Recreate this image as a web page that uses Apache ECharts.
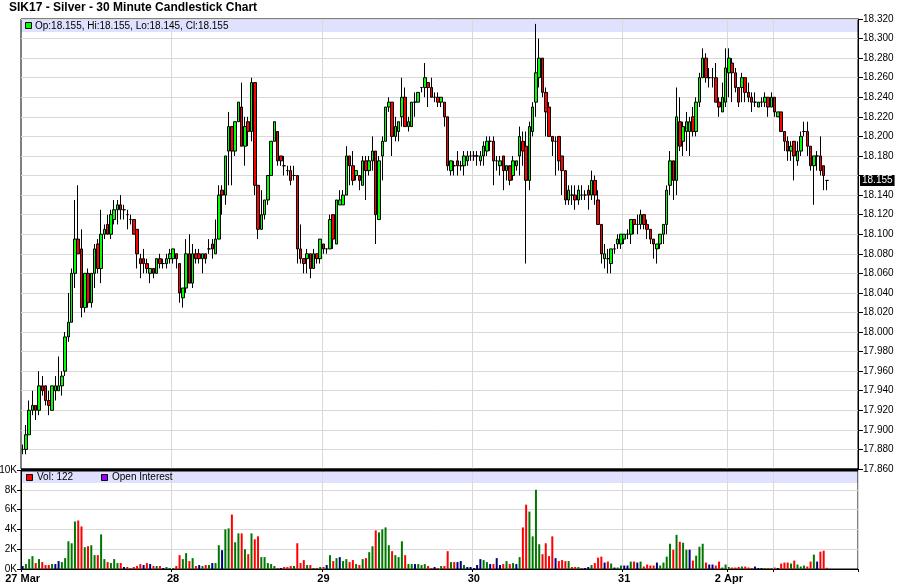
<!DOCTYPE html>
<html><head><meta charset="utf-8">
<script src="https://cdn.jsdelivr.net/npm/echarts@6/dist/echarts.min.js"></script>
<style>html,body{margin:0;padding:0;background:#fff}#c{width:900px;height:587px}</style>
</head><body><div id="c"></div>
<script>
// ---- DATA ----
const titleText = 'SIK17 - Silver - 30 Minute Candlestick Chart';
const dayNames = ['27 Mar','28','29','30','31','2 Apr','3 Apr'];
const dayBars  = [46,46,46,46,32,14,17];
const dayLabelShown = [true,true,true,true,true,true,false];
const emptySlots = 9;

const openP = [17.880,17.880,17.895,17.920,17.925,17.920,17.945,17.945,17.930,17.920,
 17.940,17.940,17.945,17.960,17.995,18.010,18.060,18.095,18.085,18.025,
 18.060,18.030,18.060,18.090,18.065,18.100,18.110,18.100,18.115,18.125,
 18.130,18.125,18.120,18.115,18.115,18.105,18.075,18.075,18.070,18.060,
 18.065,18.060,18.075,18.070,18.070,18.075,18.075,18.080,18.070,18.035,
 18.045,18.080,18.050,18.080,18.080,18.075,18.080,18.085,18.090,18.080,
 18.095,18.145,18.140,18.185,18.210,18.185,18.215,18.230,18.190,18.215,
 18.205,18.255,18.150,18.105,18.120,18.135,18.160,18.195,18.205,18.180,
 18.170,18.165,18.165,18.160,18.160,18.085,18.075,18.075,18.080,18.065,
 18.080,18.075,18.090,18.085,18.085,18.120,18.090,18.130,18.130,18.140,
 18.180,18.170,18.160,18.160,18.150,18.175,18.165,18.175,18.185,18.115,
 18.180,18.195,18.230,18.235,18.200,18.205,18.220,18.240,18.210,18.210,
 18.235,18.235,18.250,18.250,18.255,18.250,18.240,18.240,18.235,18.235,
 18.220,18.165,18.170,18.175,18.170,18.170,18.175,18.180,18.180,18.180,
 18.175,18.180,18.185,18.195,18.195,18.175,18.170,18.180,18.165,18.170,
 18.160,18.170,18.180,18.195,18.190,18.155,18.205,18.235,18.260,18.280,
 18.245,18.230,18.200,18.195,18.200,18.180,18.165,18.135,18.140,18.140,
 18.135,18.140,18.140,18.145,18.140,18.155,18.135,18.110,18.075,18.075,
 18.070,18.085,18.090,18.090,18.095,18.100,18.100,18.115,18.110,18.110,
 18.120,18.110,18.105,18.095,18.085,18.090,18.100,18.110,18.150,18.175,
 18.155,18.215,18.195,18.205,18.205,18.220,18.205,18.235,18.260,18.280,
 18.260,18.260,18.260,18.235,18.225,18.235,18.265,18.275,18.265,18.250,
 18.250,18.260,18.245,18.240,18.235,18.230,18.235,18.235,18.240,18.230,
 18.240,18.220,18.225,18.205,18.195,18.185,18.195,18.175,18.185,18.205,
 18.205,18.190,18.170,18.180,18.180,18.170,18.155];

const highP = [17.885,17.905,17.930,17.940,17.925,17.960,17.955,17.945,17.940,17.945,
 17.955,17.975,17.960,18.000,18.040,18.065,18.135,18.150,18.105,18.060,
 18.065,18.060,18.090,18.095,18.125,18.110,18.120,18.125,18.135,18.135,
 18.140,18.130,18.125,18.120,18.115,18.105,18.080,18.085,18.075,18.065,
 18.065,18.075,18.080,18.075,18.080,18.085,18.085,18.080,18.070,18.045,
 18.095,18.100,18.090,18.085,18.085,18.080,18.080,18.095,18.095,18.115,
 18.150,18.150,18.180,18.225,18.210,18.215,18.235,18.255,18.220,18.220,
 18.260,18.255,18.150,18.145,18.135,18.160,18.195,18.215,18.205,18.180,
 18.180,18.170,18.170,18.170,18.160,18.110,18.075,18.085,18.080,18.085,
 18.080,18.095,18.090,18.085,18.120,18.120,18.135,18.145,18.145,18.190,
 18.180,18.185,18.165,18.160,18.180,18.180,18.180,18.200,18.185,18.180,
 18.200,18.230,18.240,18.235,18.220,18.215,18.260,18.250,18.220,18.235,
 18.245,18.245,18.250,18.275,18.255,18.260,18.245,18.245,18.240,18.235,
 18.220,18.175,18.175,18.185,18.175,18.185,18.185,18.185,18.185,18.185,
 18.185,18.195,18.200,18.200,18.200,18.180,18.180,18.180,18.170,18.170,
 18.180,18.175,18.210,18.205,18.205,18.215,18.235,18.315,18.300,18.280,
 18.250,18.235,18.200,18.200,18.200,18.180,18.165,18.150,18.150,18.150,
 18.150,18.150,18.145,18.150,18.165,18.160,18.145,18.110,18.090,18.085,
 18.085,18.090,18.100,18.100,18.100,18.105,18.115,18.115,18.120,18.125,
 18.120,18.115,18.105,18.095,18.090,18.100,18.110,18.150,18.185,18.175,
 18.250,18.240,18.215,18.225,18.220,18.230,18.240,18.265,18.290,18.285,
 18.270,18.270,18.275,18.240,18.255,18.290,18.290,18.280,18.270,18.250,
 18.265,18.260,18.255,18.245,18.245,18.235,18.240,18.245,18.240,18.245,
 18.240,18.225,18.225,18.205,18.200,18.195,18.195,18.195,18.205,18.215,
 18.215,18.190,18.180,18.185,18.200,18.170,18.155];

const lowP = [17.875,17.875,17.895,17.915,17.910,17.915,17.935,17.925,17.915,17.920,
 17.930,17.940,17.935,17.955,17.990,18.010,18.045,18.080,18.015,18.020,
 18.025,18.025,18.045,18.060,18.050,18.095,18.100,18.095,18.110,18.110,
 18.115,18.115,18.105,18.110,18.100,18.065,18.055,18.060,18.060,18.050,
 18.055,18.060,18.065,18.065,18.065,18.070,18.070,18.065,18.030,18.025,
 18.040,18.050,18.045,18.070,18.070,18.060,18.070,18.080,18.075,18.080,
 18.095,18.120,18.130,18.150,18.150,18.180,18.215,18.190,18.170,18.190,
 18.195,18.140,18.095,18.105,18.115,18.130,18.160,18.195,18.170,18.170,
 18.160,18.160,18.150,18.155,18.070,18.070,18.060,18.060,18.055,18.065,
 18.070,18.070,18.080,18.080,18.085,18.085,18.090,18.130,18.130,18.140,
 18.150,18.150,18.155,18.145,18.150,18.135,18.160,18.165,18.090,18.115,
 18.155,18.195,18.225,18.180,18.195,18.195,18.210,18.210,18.205,18.210,
 18.220,18.235,18.245,18.240,18.230,18.240,18.235,18.230,18.230,18.210,
 18.165,18.160,18.160,18.160,18.165,18.160,18.170,18.175,18.175,18.170,
 18.170,18.170,18.180,18.185,18.150,18.165,18.160,18.145,18.155,18.150,
 18.155,18.165,18.160,18.170,18.070,18.145,18.200,18.220,18.250,18.240,
 18.200,18.200,18.180,18.160,18.165,18.140,18.130,18.130,18.130,18.125,
 18.130,18.135,18.135,18.125,18.135,18.130,18.110,18.070,18.065,18.060,
 18.060,18.080,18.085,18.085,18.090,18.095,18.090,18.100,18.100,18.105,
 18.105,18.095,18.090,18.075,18.070,18.085,18.090,18.100,18.140,18.135,
 18.140,18.185,18.180,18.185,18.180,18.200,18.200,18.230,18.260,18.255,
 18.250,18.250,18.235,18.220,18.225,18.230,18.240,18.235,18.245,18.230,
 18.235,18.235,18.235,18.225,18.230,18.230,18.230,18.230,18.220,18.230,
 18.220,18.220,18.205,18.185,18.175,18.175,18.155,18.170,18.180,18.200,
 18.180,18.165,18.130,18.165,18.160,18.145,18.145];

const closeP = [17.880,17.895,17.920,17.925,17.920,17.945,17.940,17.930,17.925,17.945,
 17.945,17.945,17.955,17.995,18.010,18.060,18.095,18.080,18.025,18.060,
 18.030,18.060,18.085,18.065,18.100,18.105,18.100,18.120,18.125,18.130,
 18.125,18.125,18.120,18.115,18.100,18.080,18.070,18.070,18.065,18.065,
 18.060,18.075,18.070,18.070,18.075,18.080,18.085,18.075,18.040,18.045,
 18.080,18.050,18.080,18.075,18.075,18.080,18.075,18.085,18.085,18.095,
 18.140,18.140,18.180,18.210,18.185,18.215,18.235,18.190,18.210,18.205,
 18.255,18.150,18.105,18.120,18.135,18.160,18.195,18.215,18.175,18.175,
 18.170,18.165,18.155,18.160,18.085,18.075,18.070,18.080,18.065,18.080,
 18.075,18.095,18.085,18.085,18.115,18.095,18.135,18.135,18.140,18.180,
 18.170,18.155,18.165,18.155,18.175,18.165,18.175,18.185,18.120,18.175,
 18.195,18.230,18.235,18.200,18.210,18.215,18.240,18.210,18.215,18.235,
 18.235,18.245,18.250,18.260,18.250,18.240,18.240,18.235,18.240,18.220,
 18.170,18.175,18.170,18.170,18.170,18.180,18.180,18.180,18.180,18.180,
 18.180,18.190,18.195,18.195,18.175,18.175,18.175,18.165,18.170,18.155,
 18.175,18.175,18.200,18.185,18.155,18.210,18.230,18.265,18.280,18.245,
 18.225,18.200,18.195,18.195,18.175,18.165,18.135,18.145,18.140,18.135,
 18.145,18.140,18.140,18.140,18.155,18.140,18.110,18.080,18.080,18.075,
 18.085,18.085,18.095,18.100,18.100,18.100,18.115,18.110,18.110,18.120,
 18.110,18.105,18.095,18.090,18.090,18.100,18.110,18.145,18.175,18.155,
 18.220,18.190,18.210,18.215,18.215,18.205,18.235,18.260,18.280,18.260,
 18.260,18.260,18.235,18.230,18.240,18.270,18.280,18.265,18.250,18.235,
 18.260,18.245,18.240,18.235,18.235,18.235,18.235,18.240,18.230,18.240,
 18.225,18.225,18.205,18.195,18.185,18.190,18.180,18.185,18.200,18.205,
 18.190,18.170,18.180,18.180,18.165,18.160,18.155];

const volume = [300,500,1000,1300,600,1000,700,400,400,500,
 500,800,700,1100,2800,2600,4800,4900,4300,2200,
 2300,2400,1400,1400,3500,1000,700,600,1000,600,
 600,200,200,100,200,300,500,400,600,500,
 300,300,300,100,200,100,100,300,1400,1000,
 1600,800,1100,300,400,300,400,400,600,600,
 2400,1900,4000,4100,5500,2700,3600,3600,2000,1500,
 3600,3000,3300,1200,1200,600,500,300,100,100,
 200,200,300,300,2600,600,900,400,400,100,
 100,200,200,400,1400,800,1100,1200,800,1000,
 700,900,500,400,1000,1100,1700,2300,3900,3700,
 4000,4200,2400,1800,1400,1200,2800,1400,500,500,
 500,500,400,500,300,100,200,100,300,300,
 1800,700,700,700,800,400,200,200,100,400,
 1000,900,700,500,500,1100,400,500,800,500,
 600,500,1200,4200,6500,5800,3300,8000,2500,1500,
 2600,1300,3300,1100,800,900,800,800,200,200,
 200,100,100,200,400,600,1150,1250,650,750,
 550,150,150,350,350,350,750,750,650,750,
 250,450,350,350,650,350,650,1250,2550,1950,
 3450,2750,2650,1950,1950,850,1350,2250,2550,650,
 450,450,350,750,150,450,200,150,150,200,
 250,250,150,100,250,100,100,100,100,100,
 150,100,550,650,650,550,850,450,250,350,
 250,750,1450,750,1750,1850,122];

const priceAxis = {min:17.86, max:18.32, step:0.02};
const volAxis = {min:0, max:10000, step:2000};

// ---- BUILD ----
const FONT = '"Liberation Sans", Arial, sans-serif';
const categories = [], dayStart = {}, dayStartShown = {};
dayNames.forEach((d, di) => {
  dayStart[categories.length] = d;
  dayStartShown[categories.length] = dayLabelShown[di];
  for (let k = 0; k < dayBars[di]; k++) categories.push(d + ' #' + (k + 1));
});
for (let j = 0; j < emptySlots; j++) categories.push('next #' + (j + 1));

const candleData = openP.map((o, i) => [o, closeP[i], lowP[i], highP[i]]);
const volData = volume.map((v, i) => {
  const prev = i > 0 ? closeP[i - 1] : openP[i];
  const c = closeP[i] > prev ? '#007800' : (closeP[i] < prev ? '#ff0000' : '#000080');
  return {value: v, itemStyle: {color: c}};
});
const last = closeP.length - 1;
const isStart = (i) => dayStart[i] !== undefined;

const GRID_L = 21, GRID_R = 42, G0_TOP = 19, G0_H = 450, G1_TOP = 470, G1_H = 99;
const PLOT_W = 900 - GRID_L - GRID_R;

const graphics = [
  {type:'rect', z:-1, silent:true, shape:{x:GRID_L, y:G0_TOP, width:PLOT_W, height:13}, style:{fill:'#e0e0ff'}},
  {type:'rect', z:-1, silent:true, shape:{x:GRID_L, y:G1_TOP + 1, width:PLOT_W, height:12}, style:{fill:'#e0e0ff'}},
  {type:'rect', z:50, silent:true, shape:{x:GRID_L, y:G0_TOP + G0_H - 0.5, width:PLOT_W, height:3}, style:{fill:'#000'}},
  {type:'rect', z:50, silent:true, shape:{x:25.5, y:22.5, width:6, height:6}, style:{fill:'#00ff00', stroke:'#000', lineWidth:1}},
  {type:'text', z:50, silent:true, x:35, y:26,
   style:{text:'Op:' + openP[last].toFixed(3) + ', Hi:' + highP[last].toFixed(3) + ', Lo:' + lowP[last].toFixed(3) + ', Cl:' + closeP[last].toFixed(3),
          fill:'#000', fontSize:10, fontFamily:FONT, verticalAlign:'middle'}},
  {type:'rect', z:50, silent:true, shape:{x:26.5, y:474.5, width:6, height:6}, style:{fill:'#ff0000', stroke:'#000', lineWidth:1}},
  {type:'text', z:50, silent:true, x:37, y:477.5, style:{text:'Vol: ' + volume[last], fill:'#000', fontSize:10, fontFamily:FONT, verticalAlign:'middle'}},
  {type:'rect', z:50, silent:true, shape:{x:101.5, y:474.5, width:6, height:6}, style:{fill:'#9900ff', stroke:'#000', lineWidth:1}},
  {type:'text', z:50, silent:true, x:112, y:477.5, style:{text:'Open Interest', fill:'#000', fontSize:10, fontFamily:FONT, verticalAlign:'middle'}}
];

const chart = echarts.init(document.getElementById('c'), null, {renderer:'canvas', width:900, height:587});
const gridLine = {show:true, lineStyle:{color:'#d9d9d9', width:1}};
chart.setOption({
  animation:false,
  backgroundColor:'#ffffff',
  title:{text:titleText, left:9, top:2, padding:0,
         textStyle:{fontSize:12, fontWeight:'bold', fontFamily:FONT, color:'#000'}},
  grid:[
    {left:GRID_L, right:GRID_R, top:G0_TOP, height:G0_H, show:true, borderColor:'#000', borderWidth:1, outerBoundsMode:'none'},
    {left:GRID_L, right:GRID_R, top:G1_TOP, height:G1_H, show:true, borderColor:'#000', borderWidth:1, outerBoundsMode:'none'}
  ],
  xAxis:[
    {type:'category', gridIndex:0, data:categories, boundaryGap:true,
     axisLine:{show:false}, axisTick:{show:false}, axisLabel:{show:false},
     splitLine:Object.assign({}, gridLine, {interval:(i) => i > 0 && isStart(i)})},
    {type:'category', gridIndex:1, data:categories, boundaryGap:true,
     axisLine:{show:true, lineStyle:{color:'#000'}},
     axisTick:{show:true, length:3, interval:(i) => isStart(i), lineStyle:{color:'#000'}},
     axisLabel:{interval:(i) => isStart(i) && dayStartShown[i], formatter:(v, i) => dayStart[i] || '',
                fontSize:11, fontWeight:'bold', fontFamily:FONT, color:'#000', margin:4, hideOverlap:false},
     splitLine:Object.assign({}, gridLine, {interval:(i) => i > 0 && isStart(i)})}
  ],
  yAxis:[
    {type:'value', gridIndex:0, position:'right', min:priceAxis.min, max:priceAxis.max, interval:priceAxis.step,
     axisLine:{show:true, lineStyle:{color:'#000'}},
     axisTick:{show:true, length:5, lineStyle:{color:'#000'}},
     axisLabel:{formatter:(v) => Math.abs(v - closeP[last]) < 0.008 ? '' : v.toFixed(3),
                fontSize:10, fontFamily:FONT, color:'#000', margin:5, showMinLabel:true, showMaxLabel:true},
     splitLine:gridLine},
    {type:'value', gridIndex:1, position:'left', min:volAxis.min, max:volAxis.max, interval:volAxis.step,
     axisLine:{show:true, lineStyle:{color:'#000'}},
     axisTick:{show:true, length:4, lineStyle:{color:'#000'}},
     axisLabel:{formatter:(v) => (v / 1000) + 'K', fontSize:10, fontFamily:FONT, color:'#000', margin:4, showMinLabel:true, showMaxLabel:true},
     splitLine:gridLine}
  ],
  series:[
    {type:'candlestick', xAxisIndex:0, yAxisIndex:0, data:candleData, barWidth:3,
     itemStyle:{color:'#00ff00', color0:'#ff0000', borderColor:'#000', borderColor0:'#000', borderColorDoji:'#000', borderWidth:1}},
    {type:'bar', xAxisIndex:1, yAxisIndex:1, data:volData, barWidth:2}
  ],
  graphic:graphics
});

const yPix = chart.convertToPixel({yAxisIndex:0}, closeP[last]);
graphics.push({type:'text', z:100, silent:true, x:860, y:Math.round(yPix) + 0.5,
  style:{text:closeP[last].toFixed(3), fill:'#fff', backgroundColor:'#000', padding:[1,2,0,2],
         fontSize:10, fontFamily:FONT, verticalAlign:'middle'}});
chart.setOption({graphic:graphics});
</script>
</body></html>
